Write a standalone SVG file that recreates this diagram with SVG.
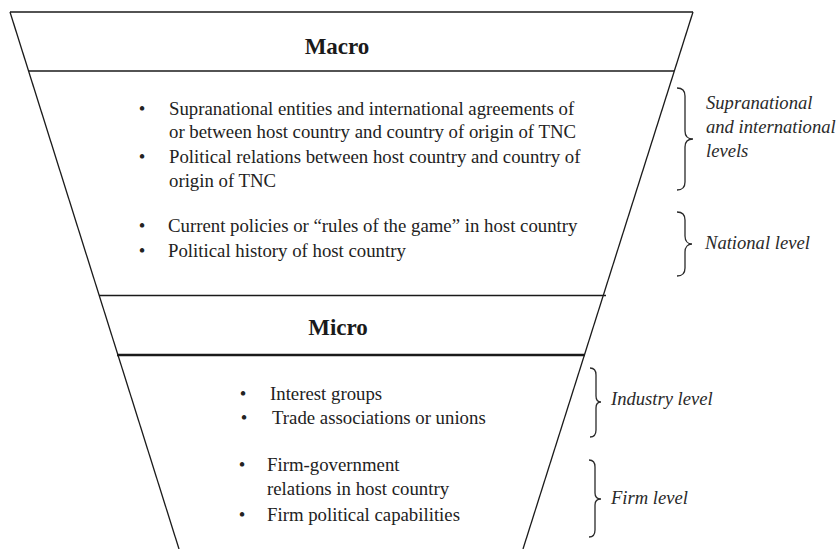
<svg xmlns="http://www.w3.org/2000/svg" width="837" height="549" viewBox="0 0 837 549">
<style>
.ln{stroke:#1a1a1a;stroke-width:1.3;fill:none}
.thick{stroke:#1a1a1a;stroke-width:2.3;fill:none}
.br{stroke:#2a2a2a;stroke-width:1.3;fill:none}
.hd{font-family:"Liberation Serif","Times New Roman",serif;font-weight:bold;font-size:23px;fill:#1a1a1a;text-anchor:middle}
.tx{font-family:"Liberation Serif","Times New Roman",serif;font-size:18.8px;fill:#222}
.bu{font-family:"Liberation Serif","Times New Roman",serif;font-size:18.8px;fill:#222;text-anchor:middle}
.it{font-family:"Liberation Serif","Times New Roman",serif;font-style:italic;font-size:18.6px;fill:#2a2a2a}
</style>
<rect width="837" height="549" fill="#ffffff"/>
<g id="funnel">
<line class="ln" x1="10" y1="12" x2="693" y2="12"/>
<line class="ln" x1="10" y1="12" x2="179" y2="549"/>
<line class="ln" x1="693" y1="12" x2="523" y2="549"/>
<line class="ln" x1="29" y1="71" x2="674" y2="71"/>
<line class="ln" x1="99" y1="295.5" x2="606" y2="295.5"/>
<line class="thick" x1="117" y1="355" x2="585" y2="355"/>
</g>
<g id="macro">
<text class="hd" x="337" y="54">Macro</text>
</g>
<g id="macro-international">
<text class="bu" x="142" y="115">•</text>
<text class="tx" x="169" y="115">Supranational entities and international agreements of</text>
<text class="tx" x="169" y="138">or between host country and country of origin of TNC</text>
<text class="bu" x="142" y="163">•</text>
<text class="tx" x="169" y="163">Political relations between host country and country of</text>
<text class="tx" x="169" y="187">origin of TNC</text>
</g>
<g id="macro-national">
<text class="bu" x="142" y="232">•</text>
<text class="tx" x="168" y="232">Current policies or “rules of the game” in host country</text>
<text class="bu" x="142" y="257">•</text>
<text class="tx" x="168" y="257">Political history of host country</text>
</g>
<g id="micro">
<text class="hd" x="338" y="335">Micro</text>
</g>
<g id="micro-industry">
<text class="bu" x="243" y="400">•</text>
<text class="tx" x="270" y="400">Interest groups</text>
<text class="bu" x="244" y="424">•</text>
<text class="tx" x="272" y="424">Trade associations or unions</text>
</g>
<g id="micro-firm">
<text class="bu" x="242" y="471">•</text>
<text class="tx" x="267" y="471">Firm-government</text>
<text class="tx" x="267" y="495">relations in host country</text>
<text class="bu" x="242" y="521">•</text>
<text class="tx" x="267" y="521">Firm political capabilities</text>
</g>
<g id="connectors">
<path class="br" d="M677,88 C683,88 685,91 685,96 L685,131 C685,136 688,139 693,139 C688,139 685,142 685,147 L685,182 C685,187 683,190 677,190"/>
<path class="br" d="M677,212 C683,212 685,215 685,220 L685,236 C685,241 688,244 692,244 C688,244 685,247 685,252 L685,268 C685,273 683,276 677,276"/>
<path class="br" d="M590,368 C594,368 596,371 596,375 L596,396 C596,400 598,402 601,402 C598,402 596,404 596,408 L596,430 C596,434 594,437 590,437"/>
<path class="br" d="M589,460 C593,460 595,463 595,467 L595,493 C595,497 597,499 601,499 C597,499 595,501 595,505 L595,530 C595,534 593,537 589,537"/>
</g>
<g id="label-international">
<text class="it" x="706" y="109">Supranational</text>
<text class="it" x="706" y="133">and international</text>
<text class="it" x="706" y="157">levels</text>
</g>
<g id="label-national">
<text class="it" x="705" y="249">National level</text>
</g>
<g id="label-industry">
<text class="it" x="611" y="405">Industry level</text>
</g>
<g id="label-firm">
<text class="it" x="611" y="504">Firm level</text>
</g>
</svg>
